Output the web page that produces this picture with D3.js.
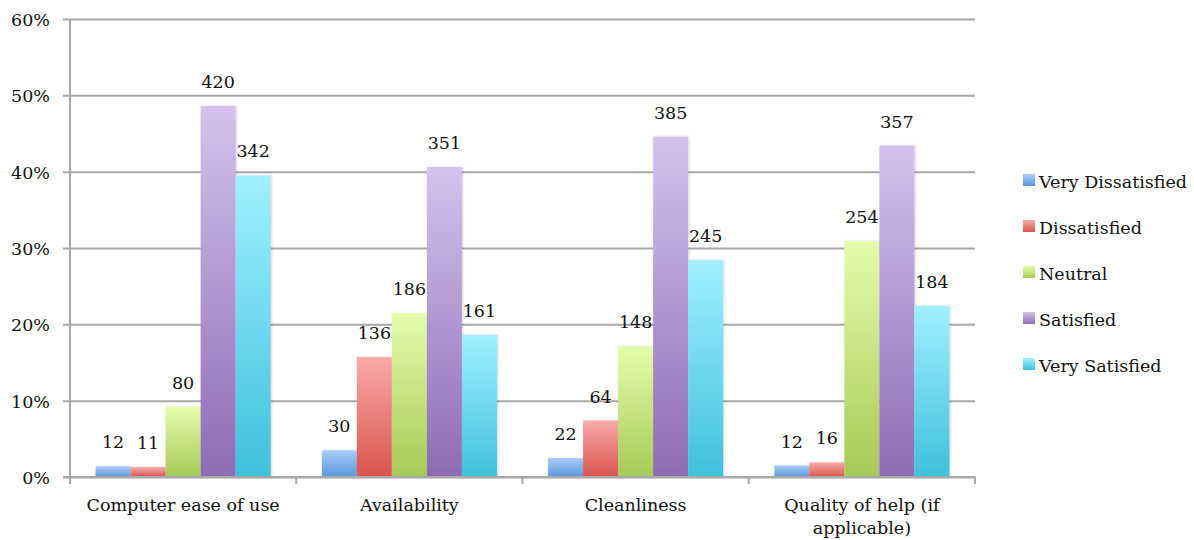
<!DOCTYPE html>
<html><head><meta charset="utf-8">
<script src="https://cdn.jsdelivr.net/npm/d3@7"></script>
<style>
html,body{margin:0;padding:0;background:#fff;}
svg{display:block;font-family:"DejaVu Serif",serif;}
</style></head>
<body><svg id="chart" width="1194" height="540"></svg>
<script>
const categories = ["Computer ease of use", "Availability", "Cleanliness", "Quality of help (if applicable)"];
const categoryLines = [["Computer ease of use"], ["Availability"], ["Cleanliness"], ["Quality of help (if", "applicable)"]];
const series = ["Very Dissatisfied", "Dissatisfied", "Neutral", "Satisfied", "Very Satisfied"];
// counts shown as labels (per category, per series)
const countsVeryDissatisfied = [12, 30, 22, 12];
const countsDissatisfied     = [11, 136, 64, 16];
const countsNeutral          = [80, 186, 148, 254];
const countsSatisfied        = [420, 351, 385, 357];
const countsVerySatisfied    = [342, 161, 245, 184];
// bar heights in percent
const pctVeryDissatisfied = [1.4, 3.5, 2.5, 1.5];
const pctDissatisfied     = [1.3, 15.7, 7.4, 1.9];
const pctNeutral          = [9.2, 21.5, 17.1, 30.9];
const pctSatisfied        = [48.6, 40.6, 44.6, 43.4];
const pctVerySatisfied    = [39.5, 18.6, 28.4, 22.4];
const yTicks = [0, 10, 20, 30, 40, 50, 60];
const colorsTop    = ["#abcdf8", "#f9aaa8", "#e4fcab", "#d4c2ee", "#a0f0ff"];
const colorsBottom = ["#5897d8", "#d9544d", "#a6ca57", "#8d6cb4", "#3fc0dc"];

const counts = [countsVeryDissatisfied, countsDissatisfied, countsNeutral, countsSatisfied, countsVerySatisfied];
const pcts = [pctVeryDissatisfied, pctDissatisfied, pctNeutral, pctSatisfied, pctVerySatisfied];

const svg = d3.select("#chart");
const mLeft = 70, mRight = 975, mTop = 19, mBottom = 477;
const fs = 17.5;
const gridColor = "#a8a8a8";

const x0 = d3.scaleBand().domain(categories).range([mLeft, mRight]).paddingInner(0).paddingOuter(0);
const x1 = d3.scaleBand().domain(series).range([0, x0.bandwidth()]).paddingInner(0).paddingOuter(0.73);
const y = d3.scaleLinear().domain([0, 60]).range([mBottom, mTop]);

// gradients
const defs = svg.append("defs");
series.forEach((s, i) => {
  const g = defs.append("linearGradient").attr("id", "grad" + i)
    .attr("x1", 0).attr("y1", 0).attr("x2", 0).attr("y2", 1);
  g.append("stop").attr("offset", "0%").attr("stop-color", colorsTop[i]);
  g.append("stop").attr("offset", "100%").attr("stop-color", colorsBottom[i]);
});
const flt = defs.append("filter").attr("id", "shadow").attr("x", "-20%").attr("y", "-5%").attr("width", "140%").attr("height", "115%");
flt.append("feDropShadow").attr("dx", 1).attr("dy", 0).attr("stdDeviation", 1.2).attr("flood-color", "#000").attr("flood-opacity", 0.18);

// gridlines + y axis
const yAxis = d3.axisLeft(y).tickValues(yTicks).tickSize(-(mRight - mLeft) - 7).tickSizeOuter(0)
  .tickFormat(d => d + "%");
const gy = svg.append("g").attr("transform", `translate(${mLeft - 7},0)`).call(yAxis);
gy.select(".domain").remove();
gy.selectAll(".tick line").attr("stroke", gridColor).attr("stroke-width", 2).attr("x1", 0).attr("x2", mRight - mLeft + 7);
gy.selectAll(".tick text").attr("x", -13).attr("dy", "0.72em").attr("y", -6)
  .attr("font-size", fs).attr("font-family", "DejaVu Serif").attr("fill", "#111");

// vertical axis line
svg.append("line").attr("x1", mLeft).attr("x2", mLeft).attr("y1", mTop).attr("y2", mBottom + 7)
  .attr("stroke", gridColor).attr("stroke-width", 2);

// x-axis boundary ticks
const bounds = categories.map(c => x0(c)).concat([x0(categories[categories.length - 1]) + x0.bandwidth()]);
svg.append("g").selectAll("line").data(bounds).join("line")
  .attr("x1", d => d).attr("x2", d => d).attr("y1", mBottom).attr("y2", mBottom + 7)
  .attr("stroke", gridColor).attr("stroke-width", 2);

// bars
const groups = svg.append("g").selectAll("g").data(categories).join("g")
  .attr("transform", c => `translate(${x0(c)},0)`);
groups.each(function(c, ci) {
  const g = d3.select(this);
  series.forEach((s, si) => {
    const v = pcts[si][ci];
    g.append("rect").attr("x", x1(s)).attr("width", x1.bandwidth())
      .attr("y", y(v)).attr("height", y(0) - y(v))
      .attr("fill", `url(#grad${si})`).attr("filter", "url(#shadow)");
  });
  series.forEach((s, si) => {
    const v = pcts[si][ci];
    g.append("text").attr("x", x1(s) + x1.bandwidth() / 2).attr("y", y(v) - 18)
      .attr("text-anchor", "middle").attr("font-size", fs).attr("fill", "#111")
      .text(counts[si][ci]);
  });
});

// redraw baseline over bars
svg.append("line").attr("x1", mLeft - 7).attr("x2", mRight).attr("y1", mBottom).attr("y2", mBottom)
  .attr("stroke", gridColor).attr("stroke-width", 2);

// category labels
svg.append("g").selectAll("text").data(categories).join("text")
  .attr("x", c => x0(c) + x0.bandwidth() / 2).attr("y", 511)
  .attr("text-anchor", "middle").attr("font-size", fs).attr("fill", "#111")
  .each(function(c, i) {
    const t = d3.select(this);
    categoryLines[i].forEach((ln, li) => {
      t.append("tspan").attr("x", x0(c) + x0.bandwidth() / 2).attr("dy", li === 0 ? 0 : 23).text(ln);
    });
  });

// legend
const legY = [182, 228, 274, 320, 366];
const leg = svg.append("g").selectAll("g").data(series).join("g")
  .attr("transform", (s, i) => `translate(1023,${legY[i]})`);
leg.append("rect").attr("x", 0).attr("y", -8).attr("width", 12).attr("height", 12)
  .attr("fill", (s, i) => `url(#grad${i})`);
leg.append("text").attr("x", 16).attr("y", 6).attr("font-size", fs).attr("fill", "#111").text(s => s);
</script></body></html>
